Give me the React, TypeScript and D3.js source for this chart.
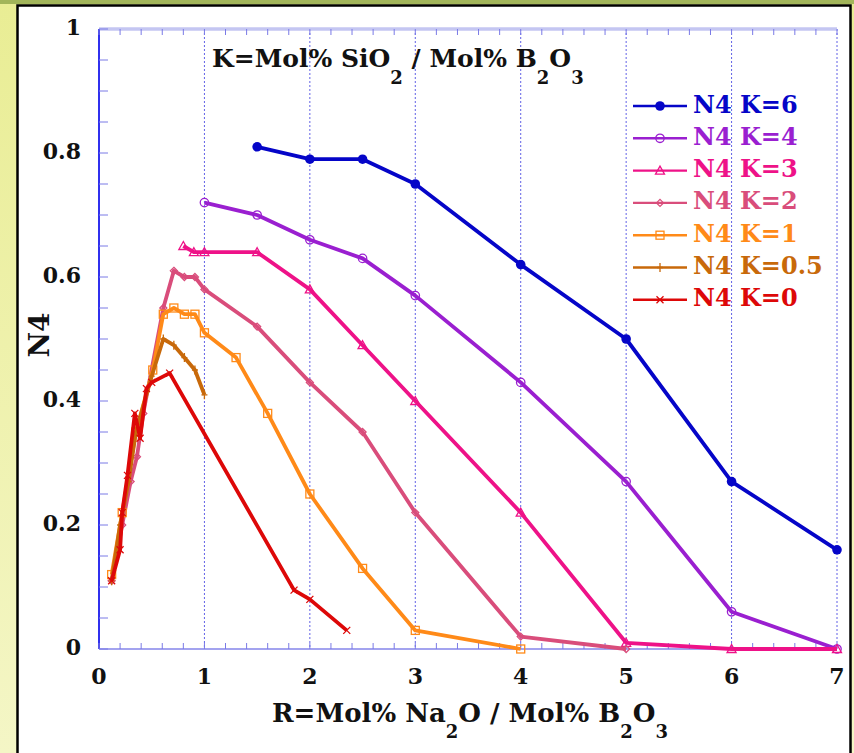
import React from "react";
import * as d3 from "d3";

// R = Mol% Na2O / Mol% B2O3 and N4 fraction for each K = Mol% SiO2 / Mol% B2O3
const k6R = [1.5, 2, 2.5, 3, 4, 5, 6, 7];
const k6N = [0.81, 0.79, 0.79, 0.75, 0.62, 0.5, 0.27, 0.16];
const k4R = [1, 1.5, 2, 2.5, 3, 4, 5, 6, 7];
const k4N = [0.72, 0.7, 0.66, 0.63, 0.57, 0.43, 0.27, 0.06, 0.0];
const k3R = [0.8, 0.9, 1, 1.5, 2, 2.5, 3, 4, 5, 6, 7];
const k3N = [0.65, 0.64, 0.64, 0.64, 0.58, 0.49, 0.4, 0.22, 0.01, 0, 0];
const k2R = [0.12, 0.22, 0.3, 0.36, 0.42, 0.61, 0.71, 0.81, 0.91, 1, 1.5, 2, 2.5, 3, 4, 5];
const k2N = [0.11, 0.2, 0.27, 0.31, 0.38, 0.55, 0.61, 0.6, 0.6, 0.58, 0.52, 0.43, 0.35, 0.22, 0.02, 0];
const k1R = [0.12, 0.22, 0.35, 0.51, 0.61, 0.71, 0.81, 0.91, 1, 1.3, 1.6, 2, 2.5, 3, 4];
const k1N = [0.12, 0.22, 0.35, 0.45, 0.54, 0.55, 0.54, 0.54, 0.51, 0.47, 0.38, 0.25, 0.13, 0.03, 0];
const k05R = [0.12, 0.2, 0.28, 0.35, 0.5, 0.61, 0.71, 0.81, 0.91, 1];
const k05N = [0.11, 0.2, 0.27, 0.35, 0.44, 0.5, 0.49, 0.47, 0.45, 0.41];
const k0R = [0.12, 0.2, 0.22, 0.27, 0.34, 0.39, 0.45, 0.5, 0.67, 1.85, 2, 2.35];
const k0N = [0.11, 0.16, 0.22, 0.28, 0.38, 0.34, 0.42, 0.43, 0.445, 0.095, 0.08, 0.03];

const seriesLabels = ["N4 K=6", "N4 K=4", "N4 K=3", "N4 K=2", "N4 K=1", "N4 K=0.5", "N4 K=0"];
const xTicks = [0, 1, 2, 3, 4, 5, 6, 7];
const yTicks = [0, 0.2, 0.4, 0.6, 0.8, 1];
const yTickLabels = ["0", "0.2", "0.4", "0.6", "0.8", "1"];

type Marker = "dot" | "circle" | "triangle" | "diamond" | "square" | "plus" | "cross";

const series = [
  { label: seriesLabels[0], r: k6R, n: k6N, color: "#0505c8", marker: "dot" as Marker },
  { label: seriesLabels[1], r: k4R, n: k4N, color: "#9a1fd0", marker: "circle" as Marker },
  { label: seriesLabels[2], r: k3R, n: k3N, color: "#ee1288", marker: "triangle" as Marker },
  { label: seriesLabels[3], r: k2R, n: k2N, color: "#d94d7b", marker: "diamond" as Marker },
  { label: seriesLabels[4], r: k1R, n: k1N, color: "#ff8a18", marker: "square" as Marker },
  { label: seriesLabels[5], r: k05R, n: k05N, color: "#c8690a", marker: "plus" as Marker },
  { label: seriesLabels[6], r: k0R, n: k0N, color: "#dd0808", marker: "cross" as Marker },
];

const W = 854;
const H = 753;
const FONT = "'DejaVu Serif', serif";

const x = d3.scaleLinear().domain([0, 7]).range([99, 837]);
const y = d3.scaleLinear().domain([0, 1]).range([649, 29]);

function MarkerShape({ kind, cx, cy, color }: { kind: Marker; cx: number; cy: number; color: string }) {
  const s = 1.3;
  switch (kind) {
    case "dot":
      return <circle cx={cx} cy={cy} r={4.8} fill={color} />;
    case "circle":
      return <circle cx={cx} cy={cy} r={4.2} fill="none" stroke={color} strokeWidth={s} />;
    case "triangle":
      return (
        <path
          d={`M${cx},${cy - 4.5}L${cx + 4.5},${cy + 3.5}L${cx - 4.5},${cy + 3.5}Z`}
          fill="none"
          stroke={color}
          strokeWidth={s}
        />
      );
    case "diamond":
      return (
        <path
          d={`M${cx},${cy - 3.5}L${cx + 3.5},${cy}L${cx},${cy + 3.5}L${cx - 3.5},${cy}Z`}
          fill="none"
          stroke={color}
          strokeWidth={s}
        />
      );
    case "square":
      return <rect x={cx - 4} y={cy - 4} width={8} height={8} fill="none" stroke={color} strokeWidth={s} />;
    case "plus":
      return (
        <path d={`M${cx},${cy - 4.5}V${cy + 4.5}M${cx - 3},${cy}H${cx + 3}`} stroke={color} strokeWidth={s} />
      );
    case "cross":
      return (
        <path
          d={`M${cx - 3.5},${cy - 3.5}L${cx + 3.5},${cy + 3.5}M${cx - 3.5},${cy + 3.5}L${cx + 3.5},${cy - 3.5}`}
          stroke={color}
          strokeWidth={s}
        />
      );
  }
  return null;
}

export default function App() {
  const line = d3
    .line<[number, number]>()
    .x((d) => x(d[0]))
    .y((d) => y(d[1]));

  const xMinor = d3.range(0, 7.0001, 0.2);
  const yMinor = d3.range(0, 1.0001, 0.05);
  const [x0, x1] = x.range();
  const [y0, y1] = y.range();

  return (
    <svg
      width={W}
      height={H}
      viewBox={`0 0 ${W} ${H}`}
      style={{ position: "absolute", left: 0, top: 0, display: "block" }}
    >
      <defs>
        <linearGradient id="bgGrad" x1="0" y1="0" x2="0" y2="1">
          <stop offset="0" stopColor="#e9ed94" />
          <stop offset="1" stopColor="#f4f6c6" />
        </linearGradient>
      </defs>
      <rect x={0} y={0} width={W} height={H} fill="url(#bgGrad)" />
      <rect x={0} y={0} width={W} height={4} fill="#a2b55a" />
      <rect x={17.5} y={5.5} width={833} height={H + 10} fill="#ffffff" stroke="#000" strokeWidth={2.5} />

      {/* vertical grid at integer R */}
      {xTicks.slice(1).map((t) => (
        <line
          key={"g" + t}
          x1={x(t)}
          x2={x(t)}
          y1={y1}
          y2={y0}
          stroke="#3838e0"
          strokeWidth={0.8}
          strokeDasharray="2,2"
        />
      ))}

      {/* frame */}
      <line x1={x0} x2={x1} y1={y1} y2={y1} stroke="#c4c6f2" strokeWidth={3.5} />
      <line x1={x0} x2={x1} y1={y0} y2={y0} stroke="#8484ea" strokeWidth={1.5} />
      <line x1={x0} x2={x0} y1={y1} y2={y0} stroke="#3030ee" strokeWidth={2} />

      {/* minor ticks */}
      {xMinor.map((t, i) => (
        <g key={"xt" + i}>
          <line x1={x(t)} x2={x(t)} y1={y0} y2={y0 - 6} stroke="#7a7ae6" strokeWidth={1} />
          <line x1={x(t)} x2={x(t)} y1={y1} y2={y1 + 6} stroke="#7a7ae6" strokeWidth={1} />
        </g>
      ))}
      {yMinor.map((t, i) => (
        <line key={"yt" + i} x1={x0} x2={x0 + 9} y1={y(t)} y2={y(t)} stroke="#7a7ae6" strokeWidth={1} />
      ))}

      {/* tick labels */}
      {xTicks.map((t) => (
        <text
          key={"xl" + t}
          x={x(t)}
          y={y0 + 29}
          textAnchor="middle"
          dominantBaseline="middle"
          fontFamily={FONT}
          fontWeight="bold"
          fontSize={22}
          fill="#111"
        >
          {t}
        </text>
      ))}
      {yTicks.map((t, i) => (
        <text
          key={"yl" + t}
          x={81}
          y={y(t)}
          textAnchor="end"
          dominantBaseline="middle"
          fontFamily={FONT}
          fontWeight="bold"
          fontSize={22}
          fill="#111"
        >
          {yTickLabels[i]}
        </text>
      ))}

      {/* axis titles */}
      <text x={272} y={722} fontFamily={FONT} fontWeight="bold" fontSize={26} fill="#111">
        R=Mol% Na
        <tspan dy={16} fontSize={18}>2</tspan>
        <tspan dy={-16}>O / Mol% B</tspan>
        <tspan dy={16} fontSize={18}>2</tspan>
        <tspan dy={-16}>O</tspan>
        <tspan dy={16} fontSize={18}>3</tspan>
      </text>
      <text
        transform="translate(49,335) rotate(-90)"
        textAnchor="middle"
        fontFamily={FONT}
        fontWeight="bold"
        fontSize={28}
        fill="#111"
      >
        N4
      </text>

      {/* composition note */}
      <text x={212} y={67} fontFamily={FONT} fontWeight="bold" fontSize={25} fill="#111">
        K=Mol% SiO
        <tspan dy={17} fontSize={18}>2</tspan>
        <tspan dy={-17}> / Mol% B</tspan>
        <tspan dy={17} fontSize={18}>2</tspan>
        <tspan dy={-17}>O</tspan>
        <tspan dy={17} fontSize={18}>3</tspan>
      </text>

      {/* series */}
      {series.map((s) => {
        const pts = s.r.map((r, i) => [r, s.n[i]] as [number, number]);
        return (
          <g key={s.label}>
            <path d={line(pts) || ""} fill="none" stroke={s.color} strokeWidth={3.8} strokeLinejoin="round" />
            {pts.map((p, i) => (
              <MarkerShape key={i} kind={s.marker} cx={x(p[0])} cy={y(p[1])} color={s.color} />
            ))}
          </g>
        );
      })}

      {/* legend */}
      {series.map((s, i) => {
        const ly = 106 + i * 32.3;
        return (
          <g key={"lg" + s.label}>
            <line x1={633} x2={687} y1={ly} y2={ly} stroke={s.color} strokeWidth={2.4} />
            <MarkerShape kind={s.marker} cx={660} cy={ly} color={s.color} />
            <text
              x={693}
              y={ly}
              dominantBaseline="middle"
              fontFamily={FONT}
              fontWeight="bold"
              fontSize={24}
              fill={s.color}
            >
              {s.label}
            </text>
          </g>
        );
      })}
    </svg>
  );
}
